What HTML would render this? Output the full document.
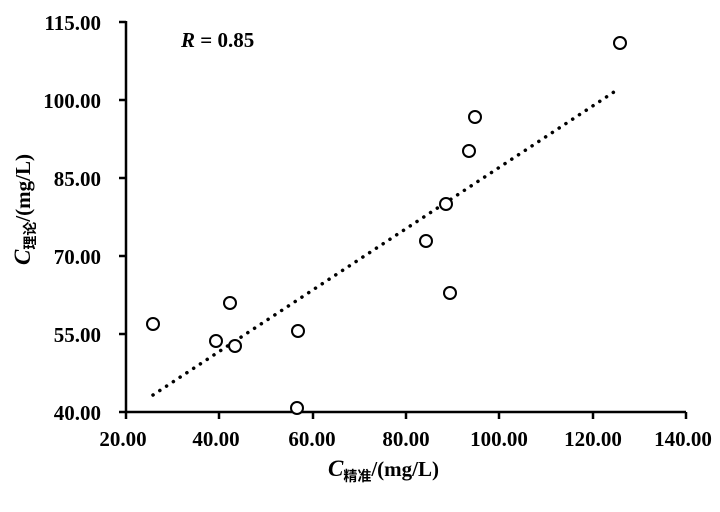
<!DOCTYPE html><html><head><meta charset="utf-8"><style>body{margin:0;background:#fff}</style></head><body>
<svg width="720" height="507" xmlns="http://www.w3.org/2000/svg" font-family="Liberation Serif, Noto Serif CJK SC, serif" font-weight="bold">
<rect width="720" height="507" fill="#fff"/>
<g stroke="#000" stroke-width="2.5" fill="none">
<line x1="126" y1="21" x2="126" y2="412"/>
<line x1="126" y1="412" x2="686" y2="412"/>
<line x1="119" y1="22" x2="126" y2="22"/><line x1="119" y1="100" x2="126" y2="100"/><line x1="119" y1="178" x2="126" y2="178"/><line x1="119" y1="256" x2="126" y2="256"/><line x1="119" y1="334" x2="126" y2="334"/><line x1="119" y1="412" x2="126" y2="412"/>
<line x1="126" y1="412" x2="126" y2="419"/><line x1="219" y1="412" x2="219" y2="419"/><line x1="313" y1="412" x2="313" y2="419"/><line x1="406" y1="412" x2="406" y2="419"/><line x1="499" y1="412" x2="499" y2="419"/><line x1="593" y1="412" x2="593" y2="419"/><line x1="686" y1="412" x2="686" y2="419"/>
</g>
<line x1="153" y1="395" x2="617" y2="90" stroke="#000" stroke-width="3.5" stroke-dasharray="0.1 8" stroke-linecap="round"/>
<g stroke="#000" stroke-width="2" fill="#fff">
<circle cx="153" cy="324" r="6"/><circle cx="216" cy="341" r="6"/><circle cx="235" cy="346" r="6"/><circle cx="230" cy="303" r="6"/><circle cx="298" cy="331" r="6"/><circle cx="297" cy="408" r="6"/><circle cx="426" cy="241" r="6"/><circle cx="446" cy="204" r="6"/><circle cx="450" cy="293" r="6"/><circle cx="469" cy="151" r="6"/><circle cx="475" cy="117" r="6"/><circle cx="620" cy="43" r="6"/>
</g>
<g font-size="21" text-anchor="end">
<text x="101" y="30">115.00</text><text x="101" y="108">100.00</text><text x="101" y="186">85.00</text><text x="101" y="264">70.00</text><text x="101" y="342">55.00</text><text x="101" y="420">40.00</text>
</g>
<g font-size="21" text-anchor="middle">
<text x="123" y="446">20.00</text><text x="216" y="446">40.00</text><text x="312" y="446">60.00</text><text x="406" y="446">80.00</text><text x="499" y="446">100.00</text><text x="593" y="446">120.00</text><text x="683" y="446">140.00</text>
</g>
<text x="181" y="47" font-size="21"><tspan font-style="italic">R</tspan> = 0.85</text>
<text x="328" y="476" font-size="21"><tspan font-style="italic" font-size="23">C</tspan><tspan font-size="14" dy="5" font-family="Noto Sans CJK SC, sans-serif">精准</tspan><tspan dy="-5">/(mg/L)</tspan></text>
<text transform="translate(30,265) rotate(-90)" font-size="21"><tspan font-style="italic" font-size="23">C</tspan><tspan font-size="14" dy="5" font-family="Noto Sans CJK SC, sans-serif">理论</tspan><tspan dy="-5">/(mg/L)</tspan></text>
</svg>
</body></html>
